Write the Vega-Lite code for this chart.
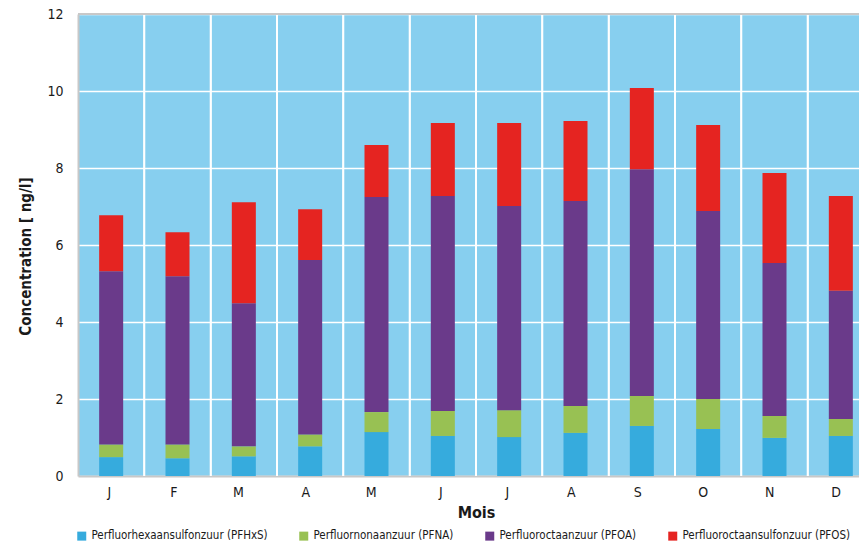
{
  "$schema": "https://vega.github.io/schema/vega-lite/v6.json",
  "autosize": {"type": "none"},
  "padding": {"left": 78, "top": 14, "right": 0, "bottom": 69},
  "width": 781,
  "height": 462,
  "background": "white",
  "config": {
    "font": "Liberation Sans Narrow, DejaVu Sans Condensed, Roboto, sans-serif",
    "view": {"fill": "#87CFEF", "stroke": null},
    "axis": {"labelColor": "#1a1a1a", "titleColor": "#1a1a1a"},
    "legend": {"labelColor": "#1a1a1a"}
  },
  "data": {
    "values": [
      {"mois": "janvier", "acide": "Perfluorhexaansulfonzuur (PFHxS)", "code": "PFHxS", "valeur": 0.49},
      {"mois": "janvier", "acide": "Perfluornonaanzuur (PFNA)", "code": "PFNA", "valeur": 0.33},
      {"mois": "janvier", "acide": "Perfluoroctaanzuur (PFOA)", "code": "PFOA", "valeur": 4.50},
      {"mois": "janvier", "acide": "Perfluoroctaansulfonzuur (PFOS)", "code": "PFOS", "valeur": 1.45},
      {"mois": "février", "acide": "Perfluorhexaansulfonzuur (PFHxS)", "code": "PFHxS", "valeur": 0.46},
      {"mois": "février", "acide": "Perfluornonaanzuur (PFNA)", "code": "PFNA", "valeur": 0.36},
      {"mois": "février", "acide": "Perfluoroctaanzuur (PFOA)", "code": "PFOA", "valeur": 4.37},
      {"mois": "février", "acide": "Perfluoroctaansulfonzuur (PFOS)", "code": "PFOS", "valeur": 1.14},
      {"mois": "mars", "acide": "Perfluorhexaansulfonzuur (PFHxS)", "code": "PFHxS", "valeur": 0.51},
      {"mois": "mars", "acide": "Perfluornonaanzuur (PFNA)", "code": "PFNA", "valeur": 0.26},
      {"mois": "mars", "acide": "Perfluoroctaanzuur (PFOA)", "code": "PFOA", "valeur": 3.72},
      {"mois": "mars", "acide": "Perfluoroctaansulfonzuur (PFOS)", "code": "PFOS", "valeur": 2.62},
      {"mois": "avril", "acide": "Perfluorhexaansulfonzuur (PFHxS)", "code": "PFHxS", "valeur": 0.77},
      {"mois": "avril", "acide": "Perfluornonaanzuur (PFNA)", "code": "PFNA", "valeur": 0.31},
      {"mois": "avril", "acide": "Perfluoroctaanzuur (PFOA)", "code": "PFOA", "valeur": 4.53},
      {"mois": "avril", "acide": "Perfluoroctaansulfonzuur (PFOS)", "code": "PFOS", "valeur": 1.32},
      {"mois": "mai", "acide": "Perfluorhexaansulfonzuur (PFHxS)", "code": "PFHxS", "valeur": 1.14},
      {"mois": "mai", "acide": "Perfluornonaanzuur (PFNA)", "code": "PFNA", "valeur": 0.52},
      {"mois": "mai", "acide": "Perfluoroctaanzuur (PFOA)", "code": "PFOA", "valeur": 5.59},
      {"mois": "mai", "acide": "Perfluoroctaansulfonzuur (PFOS)", "code": "PFOS", "valeur": 1.35},
      {"mois": "juin", "acide": "Perfluorhexaansulfonzuur (PFHxS)", "code": "PFHxS", "valeur": 1.04},
      {"mois": "juin", "acide": "Perfluornonaanzuur (PFNA)", "code": "PFNA", "valeur": 0.65},
      {"mois": "juin", "acide": "Perfluoroctaanzuur (PFOA)", "code": "PFOA", "valeur": 5.58},
      {"mois": "juin", "acide": "Perfluoroctaansulfonzuur (PFOS)", "code": "PFOS", "valeur": 1.90},
      {"mois": "juillet", "acide": "Perfluorhexaansulfonzuur (PFHxS)", "code": "PFHxS", "valeur": 1.01},
      {"mois": "juillet", "acide": "Perfluornonaanzuur (PFNA)", "code": "PFNA", "valeur": 0.70},
      {"mois": "juillet", "acide": "Perfluoroctaanzuur (PFOA)", "code": "PFOA", "valeur": 5.30},
      {"mois": "juillet", "acide": "Perfluoroctaansulfonzuur (PFOS)", "code": "PFOS", "valeur": 2.16},
      {"mois": "août", "acide": "Perfluorhexaansulfonzuur (PFHxS)", "code": "PFHxS", "valeur": 1.12},
      {"mois": "août", "acide": "Perfluornonaanzuur (PFNA)", "code": "PFNA", "valeur": 0.70},
      {"mois": "août", "acide": "Perfluoroctaanzuur (PFOA)", "code": "PFOA", "valeur": 5.32},
      {"mois": "août", "acide": "Perfluoroctaansulfonzuur (PFOS)", "code": "PFOS", "valeur": 2.08},
      {"mois": "septembre", "acide": "Perfluorhexaansulfonzuur (PFHxS)", "code": "PFHxS", "valeur": 1.30},
      {"mois": "septembre", "acide": "Perfluornonaanzuur (PFNA)", "code": "PFNA", "valeur": 0.78},
      {"mois": "septembre", "acide": "Perfluoroctaanzuur (PFOA)", "code": "PFOA", "valeur": 5.89},
      {"mois": "septembre", "acide": "Perfluoroctaansulfonzuur (PFOS)", "code": "PFOS", "valeur": 2.11},
      {"mois": "octobre", "acide": "Perfluorhexaansulfonzuur (PFHxS)", "code": "PFHxS", "valeur": 1.22},
      {"mois": "octobre", "acide": "Perfluornonaanzuur (PFNA)", "code": "PFNA", "valeur": 0.78},
      {"mois": "octobre", "acide": "Perfluoroctaanzuur (PFOA)", "code": "PFOA", "valeur": 4.88},
      {"mois": "octobre", "acide": "Perfluoroctaansulfonzuur (PFOS)", "code": "PFOS", "valeur": 2.24},
      {"mois": "novembre", "acide": "Perfluorhexaansulfonzuur (PFHxS)", "code": "PFHxS", "valeur": 0.99},
      {"mois": "novembre", "acide": "Perfluornonaanzuur (PFNA)", "code": "PFNA", "valeur": 0.57},
      {"mois": "novembre", "acide": "Perfluoroctaanzuur (PFOA)", "code": "PFOA", "valeur": 3.97},
      {"mois": "novembre", "acide": "Perfluoroctaansulfonzuur (PFOS)", "code": "PFOS", "valeur": 2.34},
      {"mois": "décembre", "acide": "Perfluorhexaansulfonzuur (PFHxS)", "code": "PFHxS", "valeur": 1.04},
      {"mois": "décembre", "acide": "Perfluornonaanzuur (PFNA)", "code": "PFNA", "valeur": 0.44},
      {"mois": "décembre", "acide": "Perfluoroctaanzuur (PFOA)", "code": "PFOA", "valeur": 3.33},
      {"mois": "décembre", "acide": "Perfluoroctaansulfonzuur (PFOS)", "code": "PFOS", "valeur": 2.46}
    ]
  },
  "layer": [
    {
      "transform": [{"filter": "datum.mois != 'janvier'"}],
      "mark": {"type": "rule", "color": "white", "strokeWidth": 1.5},
      "encoding": {
        "x": {
          "field": "mois",
          "type": "ordinal",
          "bandPosition": 0,
          "sort": ["janvier", "février", "mars", "avril", "mai", "juin", "juillet", "août", "septembre", "octobre", "novembre", "décembre"]
        }
      }
    },
    {
      "mark": {"type": "bar", "width": {"band": 0.362}},
      "encoding": {
        "x": {
          "field": "mois",
          "type": "ordinal",
          "sort": ["janvier", "février", "mars", "avril", "mai", "juin", "juillet", "août", "septembre", "octobre", "novembre", "décembre"],
          "scale": {"type": "band", "range": [0, 796], "paddingInner": 0, "paddingOuter": 0},
          "axis": {
            "title": "Mois",
            "labelExpr": "upper(substring(datum.value, 0, 1))",
            "labelAngle": 0,
            "ticks": false,
            "grid": false,
            "domainColor": "#c8c8c8",
            "domainWidth": 2,
            "labelFontSize": 14,
            "labelPadding": 16,
            "titleFontSize": 16,
            "titleFontWeight": "bold",
            "titlePadding": 5
          }
        },
        "y": {
          "field": "valeur",
          "type": "quantitative",
          "stack": "zero",
          "scale": {"domain": [0, 12], "nice": false},
          "axis": {
            "title": "Concentration [ ng/l]",
            "values": [0, 2, 4, 6, 8, 10, 12],
            "ticks": false,
            "grid": true,
            "gridColor": "white",
            "gridWidth": 1.5,
            "domainColor": "#c8c8c8",
            "domainWidth": 2,
            "labelFontSize": 14,
            "labelPadding": 15,
            "titleFontSize": 15,
            "titleFontWeight": "bold",
            "titlePadding": 13,
            "titleY": 242
          }
        },
        "order": {"field": "code", "type": "nominal"},
        "color": {
          "field": "acide",
          "type": "nominal",
          "scale": {
            "domain": ["Perfluorhexaansulfonzuur (PFHxS)", "Perfluornonaanzuur (PFNA)", "Perfluoroctaanzuur (PFOA)", "Perfluoroctaansulfonzuur (PFOS)"],
            "range": ["#36ABDD", "#98C153", "#6A3A8A", "#E52421"]
          },
          "legend": {
            "orient": "none",
            "legendX": -2,
            "legendY": 516,
            "direction": "horizontal",
            "columns": 4,
            "title": null,
            "symbolType": "square",
            "symbolSize": 81,
            "symbolStrokeWidth": 0,
            "labelFontSize": 11.5,
            "labelLimit": 400,
            "labelOffset": 4,
            "columnPadding": 30
          }
        }
      }
    },
    {
      "mark": {"type": "rule", "color": "#c8c8c8", "strokeWidth": 2},
      "encoding": {"y": {"datum": 12}}
    }
  ]
}
